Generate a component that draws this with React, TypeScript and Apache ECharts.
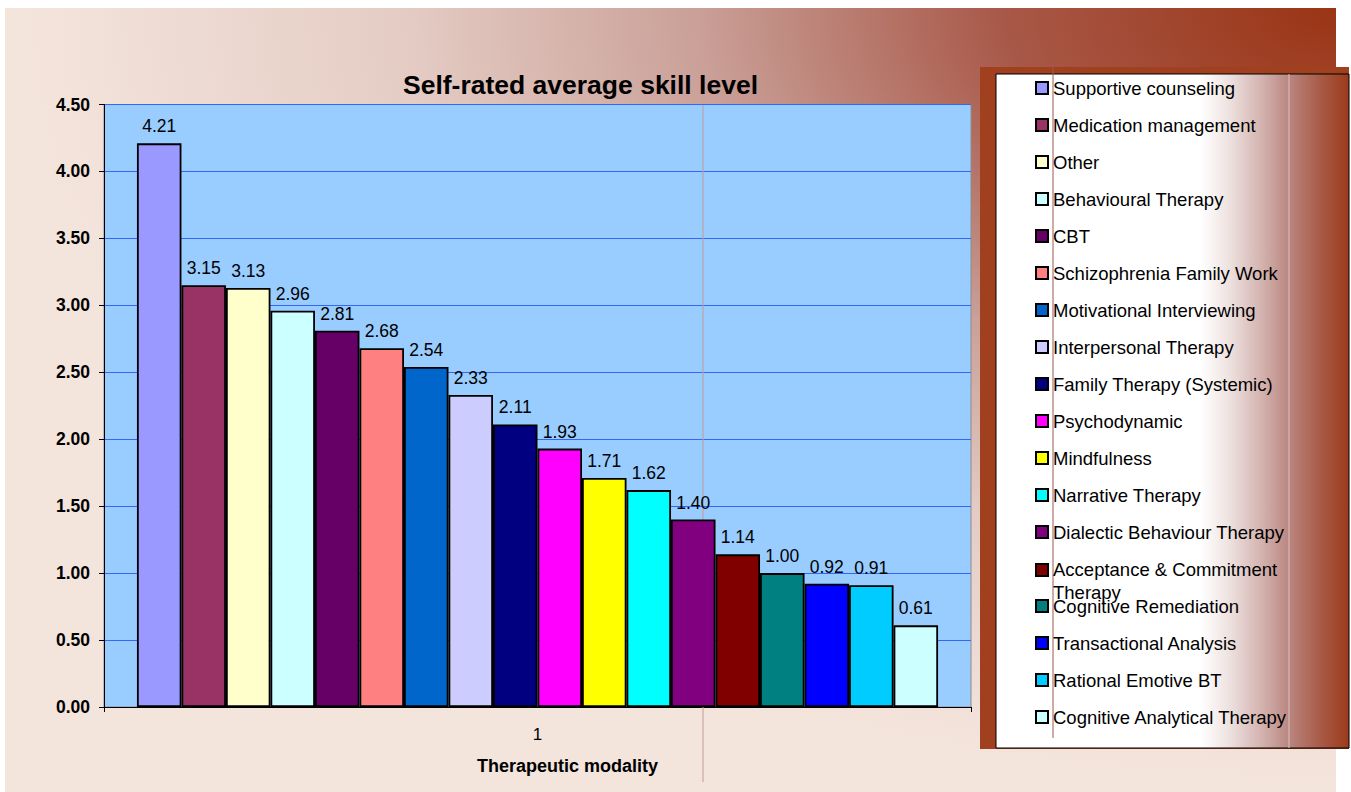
import React, { useEffect, useRef } from "react";
import * as echarts from "echarts";

const categories = ["1"];
const modalities = [
  "Supportive counseling",
  "Medication management",
  "Other",
  "Behavioural Therapy",
  "CBT",
  "Schizophrenia Family Work",
  "Motivational Interviewing",
  "Interpersonal Therapy",
  "Family Therapy (Systemic)",
  "Psychodynamic",
  "Mindfulness",
  "Narrative Therapy",
  "Dialectic Behaviour Therapy",
  "Acceptance & Commitment Therapy",
  "Cognitive Remediation",
  "Transactional Analysis",
  "Rational Emotive BT",
  "Cognitive Analytical Therapy",
];
const skillValues = [4.21, 3.15, 3.13, 2.96, 2.81, 2.68, 2.54, 2.33, 2.11, 1.93, 1.71, 1.62, 1.4, 1.14, 1.0, 0.92, 0.91, 0.61];
const barColors = [
  "#9999FF", "#993366", "#FFFFCC", "#CCFFFF", "#660066", "#FF8080",
  "#0066CC", "#CCCCFF", "#000080", "#FF00FF", "#FFFF00", "#00FFFF",
  "#800080", "#800000", "#008080", "#0000FF", "#00CCFF", "#CCFFFF",
];
const yTicks = { min: 0, max: 4.5, interval: 0.5 };

const FONT = 'Arial, "Liberation Sans", sans-serif';

export default function App() {
  const ref = useRef<HTMLDivElement>(null);
  useEffect(() => {
    if (!ref.current) return;
    const chart = echarts.init(ref.current, undefined, { renderer: "svg" });
    const series = modalities.map((name, i) => ({
      name,
      type: "bar",
      data: [skillValues[i]],
      barGap: "0%",
      barCategoryGap: "7.6%",
      itemStyle: { color: barColors[i], borderColor: "#000", borderWidth: 1.8 },
      label: {
        show: true,
        position: "top",
        distance: 8,
        color: "#000",
        fontFamily: FONT,
        fontSize: 17.5,
        formatter: (p: any) => Number(p.value).toFixed(2),
      },
    }));
    const legendText = {
      fontFamily: FONT,
      fontSize: 18.5,
      color: "#000",
      lineHeight: 20,
      rich: {
        a: { fontFamily: FONT, fontSize: 18.5, color: "#000", lineHeight: 20 },
        b: { fontFamily: FONT, fontSize: 18.5, color: "#000", lineHeight: 2, height: 26, verticalAlign: "top" },
      },
    };
    chart.setOption({
      animation: false,
      textStyle: { fontFamily: FONT },
      title: {
        text: "Self-rated average skill level",
        left: 403,
        top: 71,
        padding: 0,
        textStyle: { fontFamily: FONT, fontSize: 26.5, fontWeight: "bold", color: "#000" },
      },
      graphic: [
        {
          type: "rect",
          z: -10,
          shape: { x: 5, y: 8, width: 1331, height: 784 },
          style: {
            fill: {
              type: "radial",
              x: 1,
              y: 0,
              r: 1,
              colorStops: [
                { offset: 0, color: "#9A3414" },
                { offset: 0.25, color: "#A85848" },
                { offset: 0.48, color: "#CAA098" },
                { offset: 0.7, color: "#E4CCC4" },
                { offset: 0.95, color: "#F2E2DA" },
                { offset: 1, color: "#F3E4DC" },
              ],
            },
          },
        },
        {
          type: "line",
          z: 1,
          shape: { x1: 703, y1: 105, x2: 703, y2: 782 },
          style: { stroke: "#C49A94", lineWidth: 1 },
        },
        {
          type: "rect",
          z: 1,
          shape: { x: 980, y: 67, width: 369, height: 682 },
          style: { fill: "#A0401E" },
        },
        {
          type: "rect",
          z: 2,
          shape: { x: 996, y: 74, width: 353, height: 674 },
          style: {
            stroke: "#000",
            lineWidth: 1,
            fill: {
              type: "linear",
              x: 0,
              y: 0,
              x2: 1,
              y2: 0,
              colorStops: [
                { offset: 0, color: "#FFFFFF" },
                { offset: 0.58, color: "#FFFFFF" },
                { offset: 0.66, color: "#EEE2E0" },
                { offset: 0.75, color: "#D4B4B0" },
                { offset: 0.83, color: "#BA8680" },
                { offset: 0.92, color: "#A85A46" },
                { offset: 1, color: "#9C3A1A" },
              ],
            },
          },
        },
        {
          type: "line",
          z: 3,
          shape: { x1: 1053, y1: 64, x2: 1053, y2: 738 },
          style: { stroke: "#A0584C", lineWidth: 1 },
        },
        {
          type: "line",
          z: 3,
          shape: { x1: 1289, y1: 74, x2: 1289, y2: 748 },
          style: { stroke: "#D8C4C0", lineWidth: 1 },
        },
      ],
      legend: [
        {
          data: modalities.slice(0, 14),
          orient: "vertical",
          left: 1035,
          top: 78,
          padding: 0,
          itemWidth: 12,
          itemHeight: 12,
          itemGap: 17,
          icon: "rect",
          selectedMode: false,
          textStyle: legendText,
          formatter: (name: string) =>
            name === "Acceptance & Commitment Therapy" ? "{a|Acceptance & Commitment}\n{b|Therapy}" : name,
        },
        {
          data: modalities.slice(14),
          orient: "vertical",
          left: 1035,
          top: 596,
          padding: 0,
          itemWidth: 12,
          itemHeight: 12,
          itemGap: 17,
          icon: "rect",
          selectedMode: false,
          textStyle: legendText,
        },
      ],
      grid: {
        left: 104,
        top: 104.5,
        width: 867,
        height: 602.5,
        show: true,
        backgroundColor: "#99CCFF",
        borderColor: "#8C8C8C",
        borderWidth: 1,
      },
      xAxis: {
        type: "category",
        data: categories,
        name: "Therapeutic modality",
        nameLocation: "middle",
        nameGap: 50,
        nameTextStyle: { fontFamily: FONT, fontSize: 18, fontWeight: "bold", color: "#000", padding: [0, 0, 0, 60] },
        axisLine: { show: true, lineStyle: { color: "#000", width: 1 } },
        axisTick: { show: true, length: 5, lineStyle: { color: "#000" } },
        axisLabel: { margin: 19, fontFamily: FONT, fontSize: 17, color: "#000" },
        splitLine: { show: false },
      },
      yAxis: {
        type: "value",
        min: yTicks.min,
        max: yTicks.max,
        interval: yTicks.interval,
        axisLine: { show: true, lineStyle: { color: "#000", width: 1 } },
        axisTick: { show: true, length: 5, lineStyle: { color: "#000" } },
        axisLabel: {
          margin: 14,
          fontFamily: FONT,
          fontSize: 17.5,
          fontWeight: "bold",
          color: "#000",
          formatter: (v: number) => v.toFixed(2),
        },
        splitLine: { show: true, lineStyle: { color: "#3366FF", width: 1 } },
      },
      series,
    });
    return () => chart.dispose();
  }, []);
  return (
    <div
      ref={ref}
      style={{ position: "fixed", left: 0, top: 0, width: 1351, height: 792, background: "#fff" }}
    />
  );
}
